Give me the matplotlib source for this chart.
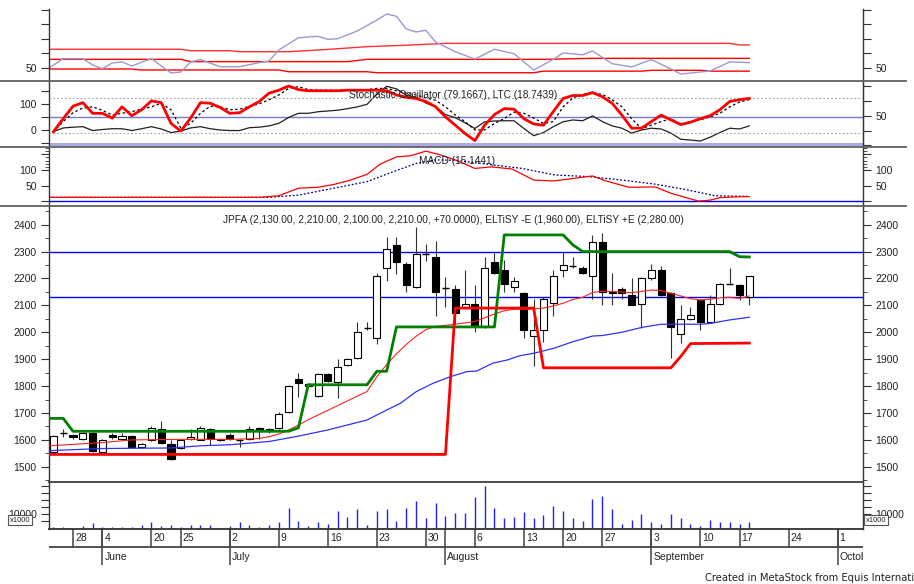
import matplotlib
matplotlib.use("Agg")
import matplotlib.pyplot as plt
from matplotlib.lines import Line2D
from matplotlib.patches import Rectangle
from matplotlib.ticker import FixedLocator, FixedFormatter, MultipleLocator

plt.rcParams['font.family'] = ['Liberation Sans', 'DejaVu Sans']

W, H = 914, 584

# ---- price data (one candle per trading day, slot 0 = 24 May) ----
opens = [1555, 1625, 1620, 1605, 1625, 1555, 1620, 1605, 1615, 1575, 1600, 1640,
         1585, 1570, 1605, 1600, 1640, 1603, 1620, 1600, 1605, 1645, 1632, 1645,
         1705, 1825, 1800, 1765, 1845, 1815, 1880, 1905, 2015, 1980, 2240, 2325,
         2255, 2170, 2290, 2280, 2165, 2160, 2095, 2105, 2020, 2260, 2230, 2170,
         2145, 1985, 2010, 2110, 2230, 2245, 2240, 2210, 2335, 2145, 2160, 2140,
         2105, 2200, 2230, 2145, 1995, 2050, 2120, 2040, 2105, 2180, 2175, 2130]
highs = [1620, 1640, 1622, 1630, 1630, 1605, 1625, 1625, 1620, 1590, 1650, 1670,
         1600, 1600, 1640, 1650, 1645, 1605, 1625, 1603, 1650, 1648, 1645, 1702,
         1805, 1850, 1812, 1850, 1850, 1900, 1905, 2040, 2040, 2220, 2355, 2355,
         2260, 2390, 2330, 2340, 2205, 2175, 2230, 2175, 2280, 2295, 2270, 2205,
         2150, 2125, 2130, 2230, 2300, 2280, 2245, 2360, 2370, 2220, 2170, 2200,
         2205, 2255, 2245, 2150, 2100, 2095, 2125, 2140, 2185, 2240, 2180, 2210]
lows = [1550, 1610, 1605, 1598, 1555, 1550, 1605, 1600, 1570, 1570, 1595, 1585,
        1525, 1565, 1600, 1598, 1580, 1597, 1600, 1575, 1600, 1605, 1625, 1640,
        1700, 1760, 1798, 1760, 1815, 1755, 1875, 1900, 2010, 1955, 2190, 2215,
        2150, 2165, 2265, 2060, 2095, 2030, 2090, 2000, 2015, 2215, 2150, 2150,
        1980, 1875, 1965, 2060, 2205, 2240, 2215, 2125, 2100, 2100, 2125, 2100,
        2015, 2195, 2135, 1905, 1960, 2045, 2010, 2035, 2100, 2175, 2120, 2100]
closes = [1615, 1625, 1610, 1625, 1560, 1600, 1610, 1615, 1575, 1585, 1645, 1590,
          1530, 1600, 1610, 1645, 1605, 1599, 1605, 1600, 1640, 1635, 1640, 1695,
          1800, 1810, 1808, 1845, 1820, 1870, 1900, 2000, 2015, 2210, 2310, 2260,
          2175, 2290, 2290, 2150, 2165, 2070, 2105, 2025, 2240, 2220, 2180, 2190,
          2010, 2010, 2125, 2210, 2250, 2245, 2220, 2335, 2150, 2150, 2145, 2100,
          2200, 2230, 2140, 2020, 2050, 2065, 2040, 2105, 2180, 2180, 2140, 2210]
volume = [1100, 1100, 500, 1600, 3500, 1100, 700, 1100, 700, 2000, 4200, 1600,
          2400, 700, 2400, 2400, 2400, 500, 1600, 4200, 2400, 1100, 2400, 4700,
          14200, 5500, 1600, 4200, 3100, 12400, 8100, 13500, 2400, 12400, 13500, 5500,
          14200, 19500, 7400, 18300, 8800, 10800, 10700, 22100, 30200, 14200, 7100, 7800,
          11400, 7100, 9500, 16200, 12100, 7100, 5200, 20700, 23100, 13500, 2800, 5900,
          10200, 4700, 2800, 10200, 7100, 2800, 1600, 5900, 4700, 4200, 2800, 4700]

# moving averages and ELTiSY stops (slot, value)
ma_fast_x = [-0.45, 5, 8, 13, 18, 21, 22, 23, 24, 25, 26, 28, 30, 32, 33, 34, 35, 36, 37, 38,
             39, 41, 43, 45, 46, 47, 49, 50, 51, 52, 53, 54, 55, 56, 58, 59, 61, 62, 63, 64,
             65, 66, 67, 68, 69, 70, 71]
ma_fast_y = [1578, 1590, 1600, 1602, 1602, 1605, 1612, 1622, 1637, 1655, 1675, 1710, 1745, 1780,
             1835, 1880, 1920, 1955, 1985, 2010, 2022, 2030, 2040, 2068, 2080, 2086, 2087, 2090,
             2098, 2108, 2122, 2130, 2148, 2153, 2150, 2147, 2157, 2155, 2145, 2135, 2125, 2120,
             2123, 2128, 2130, 2126, 2135]
ma_slow_x = [-0.45, 5, 12, 15, 18, 22, 25, 28, 32, 34, 35.4, 37, 38.7, 40.5, 42.2, 43.2, 44.8,
             46.3, 47.6, 49, 51, 53, 55, 56, 58, 60, 62, 66, 67, 69, 71]
ma_slow_y = [1560, 1568, 1570, 1578, 1582, 1594, 1614, 1637, 1674, 1711, 1736, 1779, 1810, 1835,
             1854, 1856, 1885, 1897, 1913, 1922, 1940, 1965, 1986, 1988, 2000, 2018, 2030, 2030,
             2033, 2046, 2056]
stop_up_x = [-0.45, 1, 2, 24, 25, 26, 32, 33, 34, 35, 45, 46, 52, 53, 54, 69, 70, 71]
stop_up_y = [1680, 1680, 1632, 1632, 1645, 1805, 1805, 1855, 1855, 2020, 2020, 2362, 2362, 2325,
             2300, 2300, 2281, 2280]
stop_dn_x = [-0.45, 40, 41, 49, 50, 63, 64, 65, 71]
stop_dn_y = [1546, 1546, 2090, 2090, 1868, 1868, 1910, 1958, 1960]

# top indicator panel
top_x = [-0.45, 1, 3, 4, 5, 6, 7, 8, 10, 12, 13, 14, 15, 17, 19, 21, 22, 23, 25, 27, 28, 29,
         31, 33, 34, 35, 36, 37, 38, 39, 41, 43, 45, 47, 49, 51, 52, 54, 55, 57, 59, 61, 63,
         64, 66, 67, 69, 71]
top_y = [49.8, 56.3, 56.3, 51.9, 49.3, 53.3, 54, 51.2, 56.3, 46.3, 47, 54, 55.6, 50.7, 50.7,
         53.5, 54.7, 62.3, 70.8, 71.8, 69.7, 70.1, 75.5, 83.1, 87.3, 85.7, 76.9, 74.8, 76, 67.8,
         61.1, 56, 62.8, 59.7, 48.4, 55.8, 60.2, 59, 61.6, 52.8, 50.5, 55.6, 49.1, 45.6, 47,
         47.7, 54, 53.5]
band_up_x = [-0.45, 13, 14, 18, 19, 24, 28, 32, 36, 40, 69, 70, 71]
band_up_y = [62.8, 62.8, 61.8, 61.8, 61.1, 61.1, 62.7, 64.6, 65.6, 66.9, 66.9, 65.8, 65.8]
band_mid_x = [-0.45, 13, 14, 30, 32, 50, 55, 71]
band_mid_y = [55.8, 55.8, 54.2, 54.2, 55.8, 55.8, 56.5, 56.5]
band_lo_x = [-0.45, 8, 9, 23, 24, 32, 33, 49, 50, 60, 61, 66, 67, 71]
band_lo_y = [49.1, 49.1, 48.4, 48.4, 47.2, 47.2, 46.5, 46.5, 47.6, 47.6, 48.2, 48.2, 47.6, 47.6]

# stochastic (%K, %D) and LTC
stoch_k = [23, 45, 66, 72, 54, 54, 46, 65, 50, 60, 75, 72, 37, 24, 46, 72, 71, 64, 54, 55,
           65, 74, 88, 93, 100, 94, 92, 92, 92, 92, 93, 93, 93, 93, 92, 85, 81, 79, 74, 65,
           48, 34, 20, 8, 34, 52, 62, 61, 45, 36, 34, 57, 79, 84, 84, 89, 82, 71, 51, 29,
           29, 40, 51, 43, 35, 39, 45, 50, 60, 74, 77, 79.2]
stoch_d = [23, 40, 55, 63, 65, 59, 51, 54, 57, 61, 65, 71, 60, 29, 37, 54, 66, 65, 60, 61,
           66, 70, 77, 85, 96, 99, 94, 93, 93, 93, 93, 93, 94, 96, 96, 92, 88, 85, 80, 76,
           65, 51, 40, 26, 26, 37, 45, 56, 54, 46, 37, 40, 65, 80, 86, 88, 86, 77, 65, 45,
           28, 34, 40, 45, 36, 40, 43, 48, 54, 65, 73, 77]
ltc = [-6, 8, 11, 13, -2, 2, 5, 5, -2, 5, 13, 4, -10, -4, 8, 13, 5, 0, -2, -2,
       9, 11, 16, 26, 49, 65, 65, 71, 74, 77, 83, 90, 100, 140, 170, 160, 135, 128, 105, 90,
       60, 48, 28, 6, 32, 35, 36, 36, 6, -22, -10, 13, 32, 39, 36, 55, 33, 16, 7, -12,
       0, 7, 4, -12, -36, -39, -43, -28, -10, 7, 4, 16]

# MACD
macd_x = [-0.45, 21, 23, 25, 27, 28.6, 30, 32, 33.3, 35, 36.4, 38, 39.5, 41, 43, 44.7, 46.8,
          49, 51, 53, 55, 56.3, 58.7, 61.4, 63, 65.8, 67, 68, 70, 71]
macd_y = [13, 13, 18, 42, 45, 54, 65, 86, 118, 142, 145, 160, 148, 132, 105, 110, 103, 68, 65,
          73, 81, 66, 45, 46, 26, 1, 4, 12, 15, 15.1]
signal_x = [-0.45, 22, 25, 28.6, 32, 34.7, 37, 39, 41, 44.4, 47.8, 51.2, 54.6, 58, 61.4, 64.8,
            67.5, 71]
signal_y = [13, 13, 20, 42, 63, 95, 121, 132, 131, 118, 105, 84, 79, 68, 55, 36, 18, 16]

# date axis
week_slots = [2, 5, 10, 13, 18, 23, 28, 33, 38, 43, 48, 52, 56, 61, 66, 70, 75, 80]
week_labels = ['28', '4', '20', '25', '2', '9', '16', '23', '30', '6', '13', '20', '27',
               '3', '10', '17', '24', '1']
month_slots = [5, 18, 40, 61, 80]
month_labels = ['June', 'July', 'August', 'September', 'October']

XL = (-0.45, 82.6)
TXT = '#222222'
FS = 7.5


def rect(x0, y0, x1, y1):
    return [x0 / W, 1 - y1 / H, (x1 - x0) / W, (y1 - y0) / H]


def style(ax, ticks, labels, minor=None):
    ax.set_xlim(*XL)
    ax.set_facecolor('white')
    for s in ('top', 'bottom'):
        ax.spines[s].set_visible(False)
    for s in ('left', 'right'):
        ax.spines[s].set_color('#333333')
        ax.spines[s].set_linewidth(1.0)
    ax.set_xticks([])
    ax.yaxis.set_major_locator(FixedLocator(ticks))
    ax.yaxis.set_major_formatter(FixedFormatter(labels))
    if minor is not None:
        ax.yaxis.set_minor_locator(FixedLocator(minor))
    ax.tick_params(axis='y', which='both', direction='out', left=True, right=True,
                   labelleft=True, labelright=True, colors='#333333', labelcolor=TXT,
                   labelsize=FS, pad=3)
    ax.tick_params(axis='y', which='major', length=5.8)
    ax.tick_params(axis='y', which='minor', length=2.9)


fig = plt.figure(figsize=(W / 100, H / 100), dpi=100)
fig.patch.set_facecolor('white')

# ---- top panel ----
ax1 = fig.add_axes(rect(49, 9, 863, 80.7))
ax1.set_ylim(40.97, 90.76)
style(ax1, [50, 60, 70, 80, 90], ['50', '', '', '', ''])
ax1.plot(band_up_x, band_up_y, color='#ff3030', lw=1)
ax1.plot(band_mid_x, band_mid_y, color='#ff0000', lw=1)
ax1.plot(band_lo_x, band_lo_y, color='#ff0000', lw=1)
ax1.plot(top_x, top_y, color='#9a9ad0', lw=1)

# ---- stochastic panel ----
ax2 = fig.add_axes(rect(49, 80.7, 863, 147))
ax2.set_ylim(-66.1, 191.8)
style(ax2, [-50, 0, 50, 100, 150], ['', '0', '', '100', ''])
ax2.tick_params(axis='y', labelright=False, right=False)
ax2r = ax2.twinx()
ax2r.set_ylim(-2.78, 109.0)
ax2r.set_xlim(*XL)
for s in ('top', 'bottom', 'left'):
    ax2r.spines[s].set_visible(False)
ax2r.spines['right'].set_color('#333333')
ax2r.yaxis.set_major_locator(FixedLocator([0, 25, 50, 75, 100]))
ax2r.yaxis.set_major_formatter(FixedFormatter(['', '', '50', '', '']))
ax2r.tick_params(axis='y', direction='out', length=5.8, colors='#333333', labelcolor=TXT,
                 labelsize=FS, pad=3)
ax2.axhline(50, color='#7878d0', lw=1)
ax2.axhline(-53, color='#aaaae6', lw=2.2)
ax2r.axhline(80, color='#a0a0a0', lw=0.8, ls=(0, (1.5, 2)))
ax2r.axhline(20, color='#a0a0a0', lw=0.8, ls=(0, (1.5, 2)))
slots = list(range(len(closes)))
ax2.plot(slots, ltc, color='#202020', lw=0.9)
ax2r.plot(slots, stoch_d, color='#000000', lw=0.9, ls=(0, (2, 2)))
ax2r.plot(slots, stoch_k, color='#ff0000', lw=2.0)

# ---- MACD panel ----
ax3 = fig.add_axes(rect(49, 147, 863, 206))
ax3.set_ylim(-14.6, 173.2)
style(ax3, [0, 50, 100, 150], ['', '50', '100', ''], minor=list(range(110, 175, 10)))
ax3.axhline(0, color='#0000ff', lw=1)
ax3.plot(signal_x, signal_y, color='#000080', lw=0.9, ls=(0, (1.5, 1.5)))
ax3.plot(macd_x, macd_y, color='#ff0000', lw=0.9)

# ---- price panel ----
ax4 = fig.add_axes(rect(49, 206, 863, 481.7))
ax4.set_ylim(1444.6, 2469.5)
style(ax4, list(range(1500, 2401, 100)), [str(v) for v in range(1500, 2401, 100)],
      minor=list(range(1450, 2470, 50)))
ax4.axhline(2300, color='#0000ff', lw=1, zorder=1)
ax4.axhline(2130, color='#0000ff', lw=1, zorder=1)
bw = 0.72
for i in slots:
    o, h, l, c = opens[i], highs[i], lows[i], closes[i]
    ax4.vlines(i, l, h, color='#303030', lw=0.8, zorder=2)
    if o == c:
        ax4.hlines(c, i - bw / 2, i + bw / 2, color='#000000', lw=1, zorder=3)
    else:
        fc = 'white' if c > o else 'black'
        ax4.add_patch(Rectangle((i - bw / 2, min(o, c)), bw, abs(c - o), facecolor=fc,
                                edgecolor='black', lw=0.8, zorder=3))
ax4.plot(ma_slow_x, ma_slow_y, color='#3030ff', lw=0.9, zorder=4)
ax4.plot(ma_fast_x, ma_fast_y, color='#ff2020', lw=0.8, zorder=4)
ax4.plot(stop_up_x, stop_up_y, color='#008000', lw=2.0, zorder=5)
ax4.plot(stop_dn_x, stop_dn_y, color='#ff0000', lw=2.0, zorder=5)

# ---- volume panel ----
ax5 = fig.add_axes(rect(49, 481.7, 863, 528.5))
ax5.set_ylim(-150, 33290)
style(ax5, [5000, 10000, 15000, 20000, 25000, 30000], ['', '10000', '', '', '', ''])
ax5.vlines(slots, 0, volume, color='#2020ff', lw=1.0)

# ---- date axis ----
axd = fig.add_axes(rect(49, 528.5, 863, 565))
axd.set_xlim(*XL)
axd.set_ylim(0, 1)
axd.axis('off')
mid = 0.493
axd.axhline(mid, color='#333333', lw=1.2)
for s, lab in zip(week_slots, week_labels):
    axd.plot([s, s], [mid, 1], color='#444444', lw=1.1)
    axd.text(s + 0.2, 0.73, lab, fontsize=FS, color=TXT, va='center', ha='left')
for s, lab in zip(month_slots, month_labels):
    axd.plot([s, s], [0, 1], color='#444444', lw=1.1)
    axd.text(s + 0.2, 0.23, lab, fontsize=FS, color=TXT, va='center', ha='left', clip_on=True)

# panel separators
for y, x0, x1, c in [(80.7, 0, 906, '#606060'), (147, 0, 906, '#606060'),
                     (206, 0, 906, '#606060'), (481.7, 49, 863, '#404040'),
                     (528.5, 49, 863, '#303030')]:
    fig.add_artist(Line2D([x0 / W, x1 / W], [1 - y / H] * 2, color=c, lw=1.3))

# titles
fig.text(349 / W, 1 - 95 / H, 'Stochastic Oscillator (79.1667), LTC (18.7439)',
         fontsize=7.3, color=TXT, va='center', ha='left')
fig.text(419 / W, 1 - 161 / H, 'MACD (15.1441)', fontsize=7.3, color=TXT, va='center', ha='left')
fig.text(223 / W, 1 - 220 / H,
         'JPFA (2,130.00, 2,210.00, 2,100.00, 2,210.00, +70.0000), '
         'ELTiSY -E (1,960.00), ELTiSY +E (2,280.00)',
         fontsize=7.3, color=TXT, va='center', ha='left')

# x1000 boxes
for xc in (20, 876):
    fig.text(xc / W, 1 - 520 / H, 'x1000', fontsize=5.5, color=TXT, va='center', ha='center',
             bbox=dict(boxstyle='square,pad=0.2', fc='white', ec='#555555', lw=0.8))

fig.text(705 / W, 1 - 578 / H, 'Created in MetaStock from Equis International',
         fontsize=7.2, family='DejaVu Sans', color=TXT, va='center', ha='left')

fig.savefig('out.png', dpi=100, facecolor='white')
